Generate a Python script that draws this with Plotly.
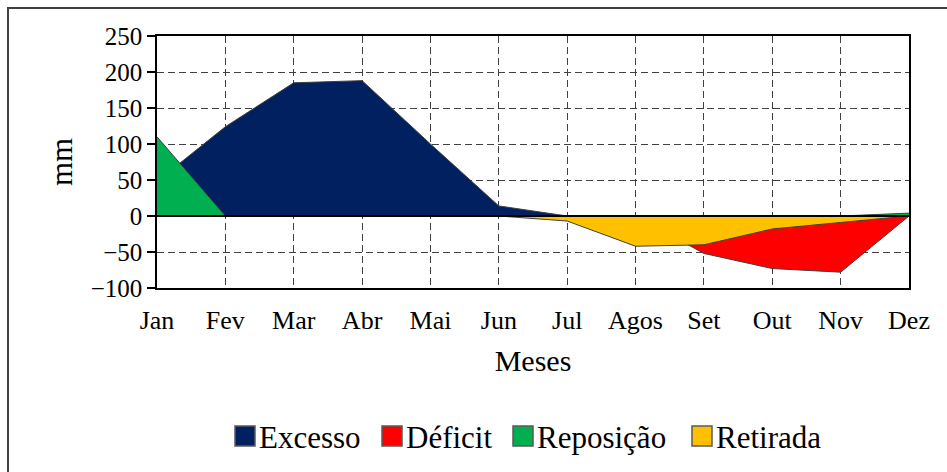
import plotly.graph_objects as go

months = ["Jan", "Fev", "Mar", "Abr", "Mai", "Jun", "Jul", "Agos", "Set", "Out", "Nov", "Dez"]
excesso = [48, 124, 185, 188, 100, 14, 0, 0, 0, 0, 0, 0]
deficit = [0, 0, 0, 0, 0, 0, 0, 0, -52, -73, -78, 0]
reposicao = [110, 0, 0, 0, 0, 0, 0, 0, 0, 0, 0, 4]
retirada = [0, 0, 0, 0, 0, 0, -7, -42, -40, -18, -9, 0]

series_names = ["Excesso", "Déficit", "Reposição", "Retirada"]
series_values = [excesso, deficit, reposicao, retirada]
series_colors = ["#002060", "#FF0000", "#00B050", "#FFC000"]

FONT = "Liberation Serif"
W, H = 947, 472
ML, MR, MT, MB = 157, 38, 36, 184
PW = W - ML - MR
PH = H - MT - MB

fig = go.Figure()
for name, vals, col in zip(series_names, series_values, series_colors):
    fig.add_trace(go.Scatter(
        x=months, y=vals, mode="lines", fill="tozeroy", fillcolor=col, name=name,
        line=dict(color="#404040", width=1), showlegend=False, hoverinfo="skip",
    ))

def px_to_paper_x(px):
    return (px - ML) / PW

def px_to_paper_y(py):
    return (H - MB - py) / PH

shapes = [
    dict(type="line", xref="paper", yref="y", x0=0, x1=1, y0=0, y1=0,
         line=dict(color="black", width=2), layer="above"),
    dict(type="line", xref="paper", yref="paper", x0=px_to_paper_x(8), x1=px_to_paper_x(8),
         y0=px_to_paper_y(7), y1=px_to_paper_y(480), line=dict(color="#404040", width=2)),
    dict(type="line", xref="paper", yref="paper", x0=px_to_paper_x(7), x1=px_to_paper_x(960),
         y0=px_to_paper_y(8), y1=px_to_paper_y(8), line=dict(color="#404040", width=2)),
]
annotations = []

# manual legend (square + label)
legend_x = [235, 382, 513, 692]
leg_cy = 436
sq = 20
for name, col, lx in zip(series_names, series_colors, legend_x):
    shapes.append(dict(
        type="rect", xref="paper", yref="paper",
        x0=px_to_paper_x(lx), x1=px_to_paper_x(lx + sq),
        y0=px_to_paper_y(leg_cy + sq / 2), y1=px_to_paper_y(leg_cy - sq / 2),
        fillcolor=col, line=dict(color="#595959", width=1.5),
    ))
    annotations.append(dict(
        xref="paper", yref="paper", x=px_to_paper_x(lx + sq + 2), y=px_to_paper_y(leg_cy + 1),
        xanchor="left", yanchor="middle", text=name, showarrow=False,
        font=dict(size=31, family=FONT, color="black"),
    ))

fig.update_layout(
    width=W, height=H,
    margin=dict(l=ML, r=MR, t=MT, b=MB, autoexpand=False),
    paper_bgcolor="white", plot_bgcolor="white",
    font=dict(family=FONT, color="black", size=24),
    showlegend=False,
    xaxis=dict(
        type="category", range=[0, 11], showgrid=True, gridcolor="#404040", gridwidth=1.2,
        griddash="7px,4px", showline=True, linecolor="black", linewidth=1.5, mirror=True,
        ticks="outside", ticklen=8, tickcolor="rgba(0,0,0,0)",
        tickfont=dict(size=26, family=FONT, color="black"),
        title=dict(text="Meses", font=dict(size=30, family=FONT, color="black"), standoff=16),
        zeroline=False, automargin=False,
    ),
    yaxis=dict(
        range=[-100, 250], dtick=50, showgrid=True, gridcolor="#404040", gridwidth=1.2,
        griddash="7px,4px", showline=True, linecolor="black", linewidth=1.5, mirror=True,
        ticks="outside", ticklen=8, tickcolor="black", tickwidth=1.5,
        tickfont=dict(size=25, family=FONT, color="black"),
        title=dict(text="mm", font=dict(size=31, family=FONT, color="black"), standoff=9),
        zeroline=False, automargin=False,
    ),
    shapes=shapes,
    annotations=annotations,
)

fig.write_html(
    "out.html",
    config={"displayModeBar": False},
    post_script="document.body.style.margin='0';document.body.style.overflow='hidden';",
)
